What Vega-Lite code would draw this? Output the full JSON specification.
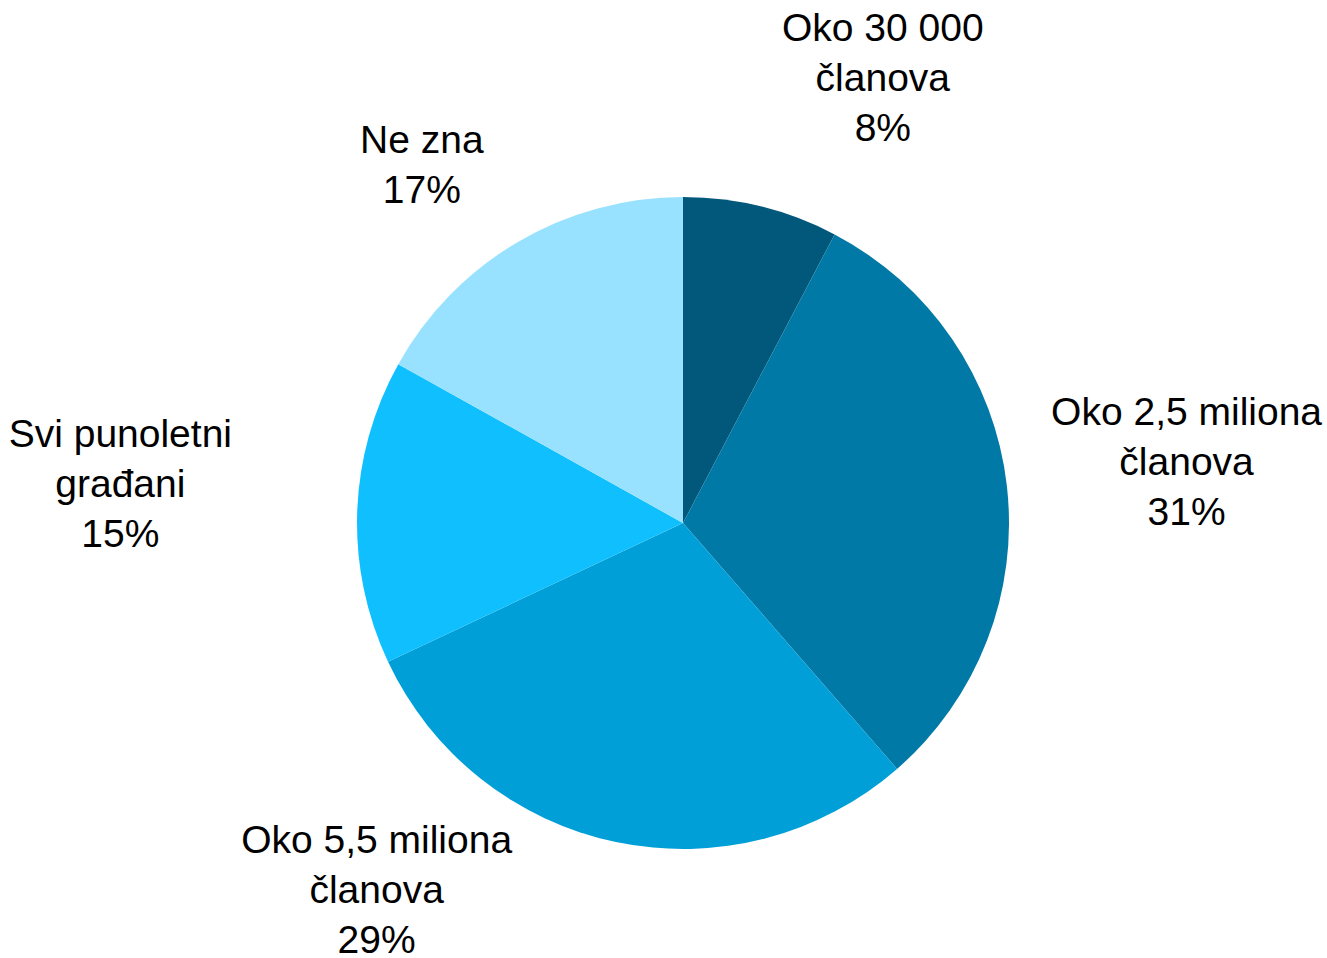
{
  "$schema": "https://vega.github.io/schema/vega-lite/v6.json",
  "width": 1288,
  "height": 870,
  "autosize": "none",
  "padding": {"left": 39, "top": 88, "right": 0, "bottom": 0},
  "background": "white",
  "config": {"view": {"stroke": null}},
  "data": {
    "values": [
      {"cat": "Oko 30 000 članova", "rank": 1, "value": 7.7, "label": "Oko 30 000\nčlanova\n8%"},
      {"cat": "Oko 2,5 miliona članova", "rank": 2, "value": 30.9, "label": "Oko 2,5 miliona\nčlanova\n31%"},
      {"cat": "Oko 5,5 miliona članova", "rank": 3, "value": 29.4, "label": "Oko 5,5 miliona\nčlanova\n29%"},
      {"cat": "Svi punoletni građani", "rank": 4, "value": 15.1, "label": "Svi punoletni\ngrađani\n15%"},
      {"cat": "Ne zna", "rank": 5, "value": 16.9, "label": "Ne zna\n17%"}
    ]
  },
  "encoding": {
    "theta": {"field": "value", "type": "quantitative", "stack": true},
    "order": {"field": "rank", "type": "quantitative"}
  },
  "layer": [
    {
      "mark": {"type": "arc", "outerRadius": 326},
      "encoding": {
        "color": {
          "field": "cat",
          "type": "nominal",
          "legend": null,
          "scale": {
            "domain": ["Oko 30 000 članova", "Oko 2,5 miliona članova", "Oko 5,5 miliona članova", "Svi punoletni građani", "Ne zna"],
            "range": ["#02587A", "#0079A6", "#009FD8", "#10C0FE", "#99E2FF"]
          }
        }
      }
    },
    {
      "mark": {"type": "text", "radius": 496, "dx": 81, "dy": 0, "align": "center", "baseline": "alphabetic", "font": "Liberation Sans", "fontSize": 39, "lineHeight": 50, "lineBreak": "\n", "color": "black"},
      "encoding": {
        "detail": {"field": "cat"},
        "text": {"condition": {"test": "datum.rank === 1", "field": "label"}, "value": ""}
      }
    },
    {
      "mark": {"type": "text", "radius": 507, "dx": 0, "dy": -39, "align": "center", "baseline": "alphabetic", "font": "Liberation Sans", "fontSize": 39, "lineHeight": 50, "lineBreak": "\n", "color": "black"},
      "encoding": {
        "detail": {"field": "cat"},
        "text": {"condition": {"test": "datum.rank === 2", "field": "label"}, "value": ""}
      }
    },
    {
      "mark": {"type": "text", "radius": 337, "dx": -237, "dy": 0, "align": "center", "baseline": "alphabetic", "font": "Liberation Sans", "fontSize": 39, "lineHeight": 50, "lineBreak": "\n", "color": "black"},
      "encoding": {
        "detail": {"field": "cat"},
        "text": {"condition": {"test": "datum.rank === 3", "field": "label"}, "value": ""}
      }
    },
    {
      "mark": {"type": "text", "radius": 563, "dx": 0, "dy": -57, "align": "center", "baseline": "alphabetic", "font": "Liberation Sans", "fontSize": 39, "lineHeight": 50, "lineBreak": "\n", "color": "black"},
      "encoding": {
        "detail": {"field": "cat"},
        "text": {"condition": {"test": "datum.rank === 4", "field": "label"}, "value": ""}
      }
    },
    {
      "mark": {"type": "text", "radius": 429, "dx": -44, "dy": 0, "align": "center", "baseline": "alphabetic", "font": "Liberation Sans", "fontSize": 39, "lineHeight": 50, "lineBreak": "\n", "color": "black"},
      "encoding": {
        "detail": {"field": "cat"},
        "text": {"condition": {"test": "datum.rank === 5", "field": "label"}, "value": ""}
      }
    }
  ]
}
